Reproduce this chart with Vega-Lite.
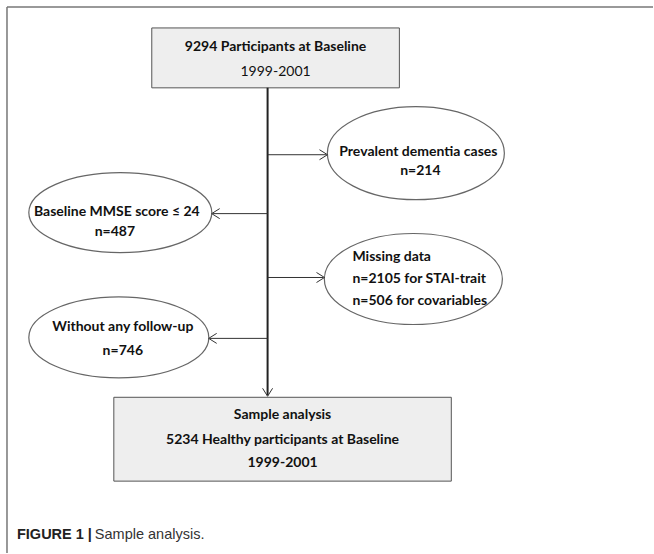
{
  "$schema": "https://vega.github.io/schema/vega-lite/v6.json",
  "width": 654,
  "height": 554,
  "padding": 0,
  "autosize": {"type": "fit", "contains": "padding"},
  "background": "#ffffff",
  "config": {"view": {"stroke": null}},
  "resolve": {"scale": {"shape": "independent"}},
  "datasets": {
    "frame": [
      {"x": 7, "x2": 654, "y": 7, "y2": 7},
      {"x": 7, "x2": 7, "y": 7, "y2": 554}
    ],
    "boxes": [
      {"id": "start", "x": 152, "x2": 400, "y": 28, "y2": 88},
      {"id": "final", "x": 114, "x2": 452, "y": 398, "y2": 482}
    ],
    "ellipses": [
      {"id": "dementia", "x": 416.5, "y": 153.5},
      {"id": "mmse", "x": 120.5, "y": 213},
      {"id": "missing", "x": 414, "y": 279.5},
      {"id": "followup", "x": 119, "y": 338}
    ],
    "links": [
      {"kind": "main", "x": 268, "x2": 268, "y": 88, "y2": 396},
      {"kind": "branch", "x": 268, "x2": 327, "y": 155, "y2": 155},
      {"kind": "branch", "x": 213, "x2": 268, "y": 214, "y2": 214},
      {"kind": "branch", "x": 268, "x2": 324, "y": 278, "y2": 278},
      {"kind": "branch", "x": 210, "x2": 268, "y": 339, "y2": 339}
    ],
    "heads": [
      {"dir": "right", "x": 328, "y": 155},
      {"dir": "left", "x": 212, "y": 214},
      {"dir": "right", "x": 325, "y": 278},
      {"dir": "left", "x": 209, "y": 339},
      {"dir": "down", "x": 268, "y": 397}
    ],
    "labels": [
      {"style": "bold", "text": "9294 Participants at Baseline", "x": 276, "y": 47},
      {"style": "regular", "text": "1999-2001", "x": 276, "y": 72},
      {"style": "bold", "text": "Prevalent dementia cases", "x": 419, "y": 152},
      {"style": "bold", "text": "n=214", "x": 421, "y": 171},
      {"style": "bold", "text": "Baseline MMSE score ≤ 24", "x": 117, "y": 212},
      {"style": "bold", "text": "n=487", "x": 115, "y": 232},
      {"style": "left", "text": "Missing data", "x": 353, "y": 257},
      {"style": "left", "text": "n=2105 for STAI-trait", "x": 353, "y": 280},
      {"style": "left", "text": "n=506 for covariables", "x": 353, "y": 302},
      {"style": "bold", "text": "Without any follow-up", "x": 123, "y": 328},
      {"style": "bold", "text": "n=746", "x": 123, "y": 352},
      {"style": "bold", "text": "Sample analysis", "x": 283, "y": 416},
      {"style": "bold", "text": "5234 Healthy participants at Baseline", "x": 283, "y": 441},
      {"style": "bold", "text": "1999-2001", "x": 283, "y": 464},
      {"style": "capbold", "text": "FIGURE 1 |", "x": 17, "y": 536},
      {"style": "capreg", "text": "Sample analysis.", "x": 95, "y": 536}
    ]
  },
  "layer": [
    {
      "data": {"name": "frame"},
      "mark": {"type": "rule", "color": "#777777", "strokeWidth": 1.5},
      "encoding": {
        "x": {"field": "x", "type": "quantitative", "scale": {"domain": [0, 654], "nice": false, "zero": false}, "axis": null},
        "x2": {"field": "x2"},
        "y": {"field": "y", "type": "quantitative", "scale": {"domain": [0, 554], "nice": false, "zero": false, "reverse": true}, "axis": null},
        "y2": {"field": "y2"}
      }
    },
    {
      "data": {"name": "boxes"},
      "mark": {"type": "rect", "fill": "#eeeeee", "stroke": "#555555", "strokeWidth": 1},
      "encoding": {
        "x": {"field": "x", "type": "quantitative", "scale": {"domain": [0, 654], "nice": false, "zero": false}, "axis": null},
        "x2": {"field": "x2"},
        "y": {"field": "y", "type": "quantitative", "scale": {"domain": [0, 554], "nice": false, "zero": false, "reverse": true}, "axis": null},
        "y2": {"field": "y2"}
      }
    },
    {
      "data": {"name": "ellipses"},
      "mark": {"type": "point", "filled": true, "color": "#ffffff", "fill": "#ffffff", "fillOpacity": 1, "stroke": "#666666", "strokeWidth": 1.2, "size": 4, "opacity": 1},
      "encoding": {
        "x": {"field": "x", "type": "quantitative", "scale": {"domain": [0, 654], "nice": false, "zero": false}, "axis": null},
        "y": {"field": "y", "type": "quantitative", "scale": {"domain": [0, 554], "nice": false, "zero": false, "reverse": true}, "axis": null},
        "shape": {
          "field": "id", "type": "nominal", "legend": null,
          "scale": {
            "domain": ["dementia", "mmse", "missing", "followup"],
            "range": [
              "M -88.5 0 C -88.5 -25.68 -48.88 -46.5 0 -46.5 C 48.88 -46.5 88.5 -25.68 88.5 0 C 88.5 25.68 48.88 46.5 0 46.5 C -48.88 46.5 -88.5 25.68 -88.5 0 Z",
              "M -91.5 0 C -91.5 -22.09 -50.53 -40 0 -40 C 50.53 -40 91.5 -22.09 91.5 0 C 91.5 22.09 50.53 40 0 40 C -50.53 40 -91.5 22.09 -91.5 0 Z",
              "M -89 0 C -89 -25.13 -49.15 -45.5 0 -45.5 C 49.15 -45.5 89 -25.13 89 0 C 89 25.13 49.15 45.5 0 45.5 C -49.15 45.5 -89 25.13 -89 0 Z",
              "M -90 0 C -90 -22.37 -49.71 -40.5 0 -40.5 C 49.71 -40.5 90 -22.37 90 0 C 90 22.37 49.71 40.5 0 40.5 C -49.71 40.5 -90 22.37 -90 0 Z"
            ]
          }
        }
      }
    },
    {
      "data": {"name": "links"},
      "transform": [{"filter": "datum.kind === 'main'"}],
      "mark": {"type": "rule", "color": "#222222", "strokeWidth": 2},
      "encoding": {
        "x": {"field": "x", "type": "quantitative", "scale": {"domain": [0, 654], "nice": false, "zero": false}, "axis": null},
        "x2": {"field": "x2"},
        "y": {"field": "y", "type": "quantitative", "scale": {"domain": [0, 554], "nice": false, "zero": false, "reverse": true}, "axis": null},
        "y2": {"field": "y2"}
      }
    },
    {
      "data": {"name": "links"},
      "transform": [{"filter": "datum.kind === 'branch'"}],
      "mark": {"type": "rule", "color": "#333333", "strokeWidth": 1},
      "encoding": {
        "x": {"field": "x", "type": "quantitative", "scale": {"domain": [0, 654], "nice": false, "zero": false}, "axis": null},
        "x2": {"field": "x2"},
        "y": {"field": "y", "type": "quantitative", "scale": {"domain": [0, 554], "nice": false, "zero": false, "reverse": true}, "axis": null},
        "y2": {"field": "y2"}
      }
    },
    {
      "data": {"name": "heads"},
      "mark": {"type": "point", "filled": false, "stroke": "#333333", "strokeWidth": 1, "size": 4, "opacity": 1},
      "encoding": {
        "x": {"field": "x", "type": "quantitative", "scale": {"domain": [0, 654], "nice": false, "zero": false}, "axis": null},
        "y": {"field": "y", "type": "quantitative", "scale": {"domain": [0, 554], "nice": false, "zero": false, "reverse": true}, "axis": null},
        "shape": {
          "field": "dir", "type": "nominal", "legend": null,
          "scale": {
            "domain": ["right", "left", "down"],
            "range": ["M -8 -5 L 0 0 L -8 5", "M 8 -5 L 0 0 L 8 5", "M -5 -8 L 0 0 L 5 -8"]
          }
        }
      }
    },
    {
      "data": {"name": "labels"},
      "transform": [{"filter": "datum.style === 'bold'"}],
      "mark": {"type": "text", "font": "Lato", "fontWeight": "bold", "fontSize": 14, "color": "#111111", "align": "center", "baseline": "middle"},
      "encoding": {
        "x": {"field": "x", "type": "quantitative", "scale": {"domain": [0, 654], "nice": false, "zero": false}, "axis": null},
        "y": {"field": "y", "type": "quantitative", "scale": {"domain": [0, 554], "nice": false, "zero": false, "reverse": true}, "axis": null},
        "text": {"field": "text"}
      }
    },
    {
      "data": {"name": "labels"},
      "transform": [{"filter": "datum.style === 'regular'"}],
      "mark": {"type": "text", "font": "Lato", "fontWeight": "normal", "fontSize": 14, "color": "#111111", "align": "center", "baseline": "middle"},
      "encoding": {
        "x": {"field": "x", "type": "quantitative", "scale": {"domain": [0, 654], "nice": false, "zero": false}, "axis": null},
        "y": {"field": "y", "type": "quantitative", "scale": {"domain": [0, 554], "nice": false, "zero": false, "reverse": true}, "axis": null},
        "text": {"field": "text"}
      }
    },
    {
      "data": {"name": "labels"},
      "transform": [{"filter": "datum.style === 'left'"}],
      "mark": {"type": "text", "font": "Lato", "fontWeight": "bold", "fontSize": 14, "color": "#111111", "align": "left", "baseline": "middle"},
      "encoding": {
        "x": {"field": "x", "type": "quantitative", "scale": {"domain": [0, 654], "nice": false, "zero": false}, "axis": null},
        "y": {"field": "y", "type": "quantitative", "scale": {"domain": [0, 554], "nice": false, "zero": false, "reverse": true}, "axis": null},
        "text": {"field": "text"}
      }
    },
    {
      "data": {"name": "labels"},
      "transform": [{"filter": "datum.style === 'capbold'"}],
      "mark": {"type": "text", "font": "Liberation Sans", "fontWeight": "bold", "fontSize": 14.5, "color": "#222222", "align": "left", "baseline": "middle"},
      "encoding": {
        "x": {"field": "x", "type": "quantitative", "scale": {"domain": [0, 654], "nice": false, "zero": false}, "axis": null},
        "y": {"field": "y", "type": "quantitative", "scale": {"domain": [0, 554], "nice": false, "zero": false, "reverse": true}, "axis": null},
        "text": {"field": "text"}
      }
    },
    {
      "data": {"name": "labels"},
      "transform": [{"filter": "datum.style === 'capreg'"}],
      "mark": {"type": "text", "font": "Liberation Sans", "fontWeight": "normal", "fontSize": 14.5, "color": "#333333", "align": "left", "baseline": "middle"},
      "encoding": {
        "x": {"field": "x", "type": "quantitative", "scale": {"domain": [0, 654], "nice": false, "zero": false}, "axis": null},
        "y": {"field": "y", "type": "quantitative", "scale": {"domain": [0, 554], "nice": false, "zero": false, "reverse": true}, "axis": null},
        "text": {"field": "text"}
      }
    }
  ]
}
